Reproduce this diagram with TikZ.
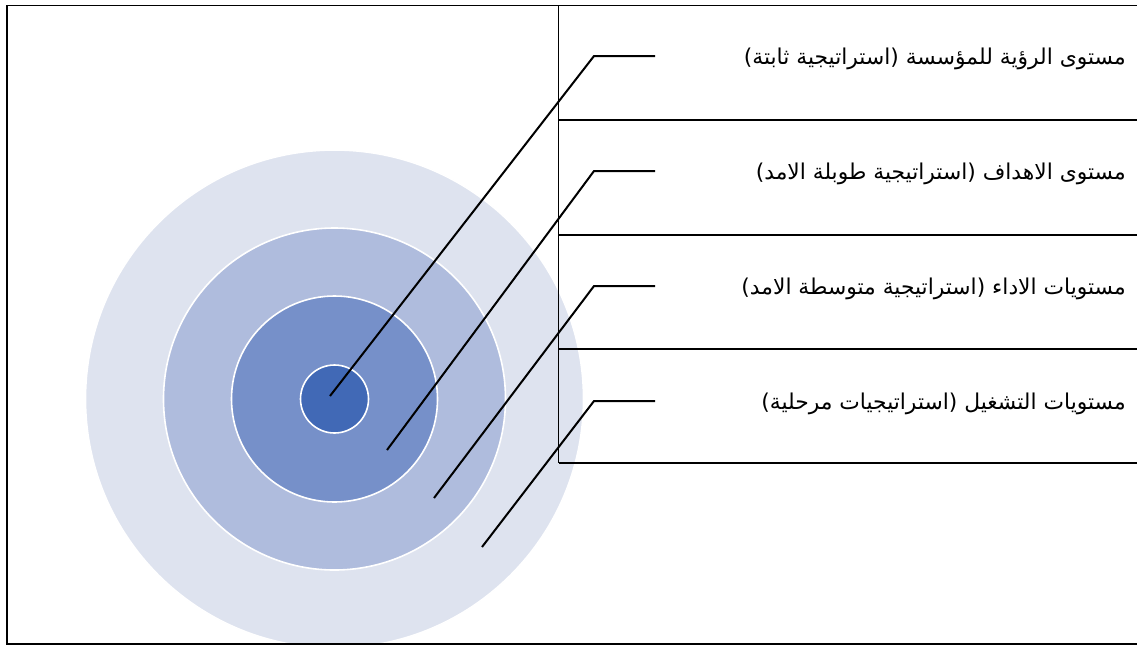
\documentclass[tikz,border=0pt]{standalone}
\usepackage{fontspec}
\TeXXeTstate=1
\newfontfamily\arabicfont[Script=Arabic]{DejaVu Sans}
\definecolor{ringA}{HTML}{DEE3EF}
\definecolor{ringB}{HTML}{AFBCDD}
\definecolor{ringC}{HTML}{7690C9}
\definecolor{ringD}{HTML}{4169B6}
\tikzset{
  ring/.style={circle, draw=white, line width=1.6pt, inner sep=0pt, outer sep=0pt},
  leader/.style={draw=black, line width=2pt},
  frameline/.style={draw=black, line width=1.6pt},
  sepline/.style={draw=black, line width=1.8pt},
  lbl/.style={anchor=east, inner sep=0pt, font=\arabicfont\fontsize{21.8}{26}\selectfont}
}
\begin{document}
\begin{tikzpicture}[x=1pt,y=-1pt]
\useasboundingbox (0,0) rectangle (1137,646);
\begin{scope}
\clip (7,5.5) rectangle (1137,644);
\node[ring, fill=ringA, minimum size=498pt] (c1) at (334.5,399) {};
\node[ring, fill=ringB, minimum size=342pt] (c2) at (334.5,399) {};
\node[ring, fill=ringC, minimum size=206pt] (c3) at (334.5,399) {};
\node[ring, fill=ringD, minimum size=68pt] (c4) at (334.5,399) {};
\end{scope}
% frame
\coordinate (ftr) at (1137,5.5);
\coordinate (ftl) at (7,5.5);
\coordinate (fbl) at (7,644);
\coordinate (fbr) at (1137,644);
\draw[frameline] (ftr) -- (ftl) -- (fbl) -- (fbr);
% table separators
\coordinate (vt) at (558.5,5.5);
\coordinate (vb) at (558.5,463);
\draw[frameline] (vt) -- (vb);
\foreach \i/\y in {1/120,2/235,3/349,4/463}{
  \coordinate (hl\i) at (558.5,\y);
  \coordinate (hr\i) at (1137,\y);
  \draw[sepline] (hl\i) -- (hr\i);
}
% labels
\node[lbl] (t1) at (1126,59) {\beginR مستوى الرؤية للمؤسسة (استراتيجية ثابتة)\endR};
\node[lbl] (t2) at (1126,174) {\beginR مستوى الاهداف (استراتيجية طوبلة الامد)\endR};
\node[lbl] (t3) at (1126,289) {\beginR مستويات الاداء (استراتيجية متوسطة الامد)\endR};
\node[lbl] (t4) at (1126,404) {\beginR مستويات التشغيل (استراتيجيات مرحلية)\endR};
% leaders
\coordinate (p1) at (330,396);  \coordinate (k1) at (594,56);  \coordinate (e1) at (655,56);
\coordinate (p2) at (387,450);  \coordinate (k2) at (594,171); \coordinate (e2) at (655,171);
\coordinate (p3) at (434,498);  \coordinate (k3) at (594,286); \coordinate (e3) at (655,286);
\coordinate (p4) at (482,547);  \coordinate (k4) at (594,401); \coordinate (e4) at (655,401);
\foreach \i in {1,2,3,4}{
  \draw[leader] (p\i) -- (k\i) -- (e\i);
}
\end{tikzpicture}
\end{document}
